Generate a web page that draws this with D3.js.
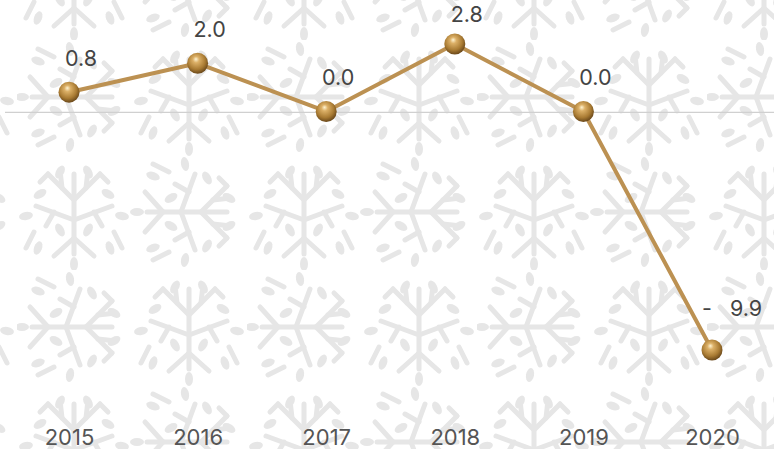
<!DOCTYPE html>
<html>
<head>
<meta charset="utf-8">
<script src="https://cdn.jsdelivr.net/npm/d3@7"></script>
<style>
  html, body { margin: 0; padding: 0; background: #fff; }
  svg { display: block; }
</style>
</head>
<body>
<div id="vis"></div>
<script>
var years = ["2015", "2016", "2017", "2018", "2019", "2020"];
var values = [0.8, 2.0, 0.0, 2.8, 0.0, -9.9];
var labels = ["0.8", "2.0", "0.0", "2.8", "0.0", "-\u00a0\u00a0\u00a09.9"];

function draw() {
  var width = 774, height = 449;

  var svg = d3.select("#vis").append("svg")
              .attr("width", width)
              .attr("height", height);

  var defs = svg.append("defs");

  // background motif tile
  var pat = defs.append("pattern")
                .attr("id", "bg")
                .attr("patternUnits", "userSpaceOnUse")
                .attr("x", 17).attr("y", 40)
                .attr("width", 230).attr("height", 230);

  function motif(g) {
    var stroke = "#e6e6e6";
    var lines = [
      [0, -38, 0, 42],
      [0, -12, -26, -38], [0, -12, 26, -38],
      [-26, -38, -34, -30], [26, -38, 34, -30],
      [0, 8, -38, -6], [0, 8, 38, -6],
      [-20, 0, -28, 14], [20, 0, 28, 14],
      [0, 26, -20, 44], [0, 26, 20, 44],
      [-12, -24, -14, -42], [12, -24, 14, -42],
      [-40, 20, -48, 36], [40, 20, 48, 36]
    ];
    lines.forEach(function(l) {
      g.append("line")
       .attr("x1", l[0]).attr("y1", l[1])
       .attr("x2", l[2]).attr("y2", l[3])
       .attr("stroke", stroke)
       .attr("stroke-width", 5)
       .attr("stroke-linecap", "round");
    });
    var leaves = [[-14, -40, 30], [14, -40, -30], [-34, -18, 60], [34, -18, -60],
                  [-14, 18, -30], [14, 18, 30], [-36, 36, 20], [36, 36, -20],
                  [-48, 4, 80], [48, 4, -80], [0, 52, 0]];
    leaves.forEach(function(l) {
      g.append("ellipse")
       .attr("cx", 0).attr("cy", 0)
       .attr("rx", 4).attr("ry", 7)
       .attr("fill", stroke)
       .attr("transform", "translate(" + l[0] + "," + l[1] + ") rotate(" + l[2] + ")");
    });
  }

  var cells = [[57, 57, 90], [172, 57, 0], [57, 172, 0], [172, 172, 90]];
  cells.forEach(function(c) {
    var g = pat.append("g").attr("transform", "translate(" + c[0] + "," + c[1] + ") rotate(" + c[2] + ")");
    motif(g);
  });

  svg.append("rect")
     .attr("width", width).attr("height", height)
     .attr("fill", "url(#bg)");

  // sphere gradient
  var grad = defs.append("radialGradient")
                 .attr("id", "ball")
                 .attr("cx", "45%").attr("cy", "40%").attr("r", "60%")
                 .attr("fx", "42%").attr("fy", "30%");
  grad.append("stop").attr("offset", "0%").attr("stop-color", "#fff4d2");
  grad.append("stop").attr("offset", "25%").attr("stop-color", "#dcb067");
  grad.append("stop").attr("offset", "70%").attr("stop-color", "#a97b33");
  grad.append("stop").attr("offset", "100%").attr("stop-color", "#6a481a");

  var x = d3.scalePoint().domain(years).range([69, 712]);
  var y = d3.scaleLinear().domain([-9.9, 2.8]).range([350, 44]);

  // zero line
  svg.append("line")
     .attr("x1", 5).attr("x2", width)
     .attr("y1", y(0) + 1).attr("y2", y(0) + 1)
     .attr("stroke", "#d0d0d0")
     .attr("stroke-width", 1.2);

  var pts = years.map(function(d, i) { return { year: d, v: values[i], label: labels[i] }; });

  var line = d3.line()
               .x(function(d) { return x(d.year); })
               .y(function(d) { return y(d.v); });

  svg.append("path")
     .datum(pts)
     .attr("d", line)
     .attr("fill", "none")
     .attr("stroke", "#bc9152")
     .attr("stroke-width", 4)
     .attr("stroke-linejoin", "round");

  svg.selectAll(".ball")
     .data(pts)
     .enter().append("circle")
     .attr("class", "ball")
     .attr("cx", function(d) { return x(d.year); })
     .attr("cy", function(d) { return y(d.v); })
     .attr("r", 10.5)
     .attr("fill", "url(#ball)");

  svg.selectAll(".lbl")
     .data(pts)
     .enter().append("text")
     .attr("class", "lbl")
     .attr("x", function(d) { return x(d.year) + (d.v < -5 ? 20 : 12); })
     .attr("y", function(d) { return d.v < -5 ? y(d.v) - 34 : Math.max(22, y(d.v) - 26); })
     .attr("text-anchor", "middle")
     .attr("fill", "#444")
     .attr("font-family", "Inter, 'Open Sans', sans-serif")
     .attr("font-size", 21.5)
     .text(function(d) { return d.label; });

  var xAxis = d3.axisBottom(x).tickSize(0).tickPadding(0);
  var ax = svg.append("g")
              .attr("transform", "translate(0,429)")
              .call(xAxis);
  ax.select(".domain").remove();
  ax.selectAll("text")
    .attr("fill", "#555")
    .attr("font-family", "Inter, 'Open Sans', sans-serif")
    .attr("font-size", 22);
}

draw();
</script>
</body>
</html>
